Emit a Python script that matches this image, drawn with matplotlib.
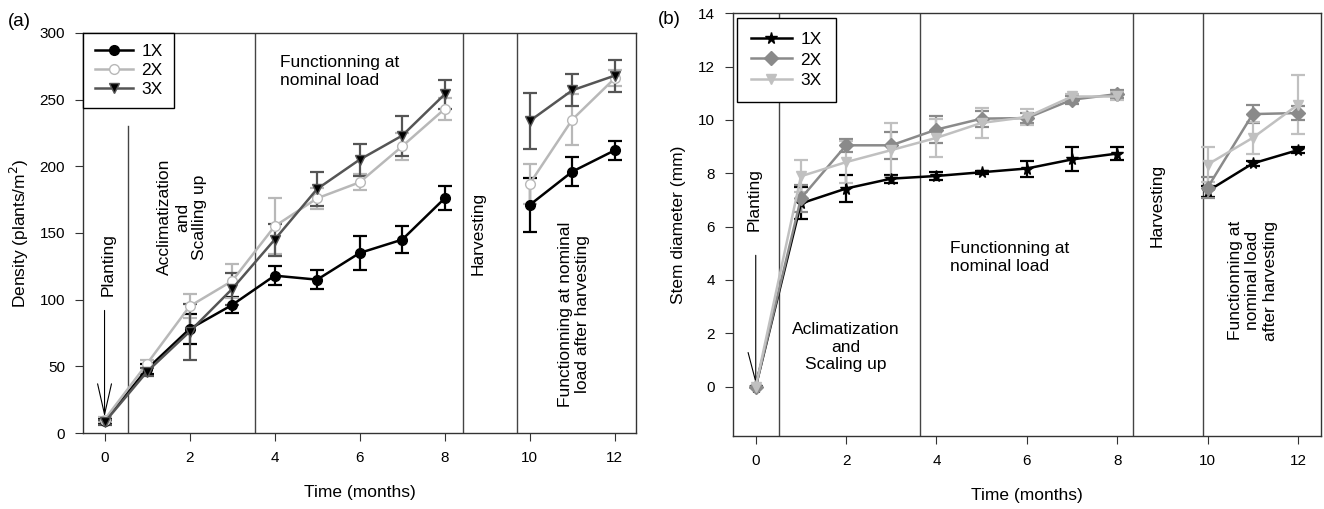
import numpy as np
import matplotlib
matplotlib.use('Agg')
import matplotlib.pyplot as plt

plt.rcParams['font.family'] = ['Liberation Sans', 'DejaVu Sans']

# months sampled (no data at month 9, harvesting)
months = np.array([0, 1, 2, 3, 4, 5, 6, 7, 8, 10, 11, 12])

# (a) density, plants/m2
dens_1x = [9, 48, 78, 96, 118, 115, 135, 145, 176, 171, 196, 212]
dens_1x_err = [2, 4, 11, 6, 7, 7, 13, 10, 9, 20, 11, 7]
dens_2x = [10, 52, 95, 114, 155, 176, 188, 215, 243, 187, 235, 266]
dens_2x_err = [2, 3, 9, 13, 21, 8, 6, 10, 8, 15, 19, 6]
dens_3x = [8, 46, 76, 108, 145, 183, 205, 223, 254, 234, 257, 268]
dens_3x_err = [2, 3, 21, 12, 12, 13, 12, 15, 11, 21, 12, 12]

# (b) stem diameter, mm
stem_1x = [0, 6.87, 7.43, 7.80, 7.90, 8.04, 8.18, 8.52, 8.74, 7.33, 8.37, 8.87]
stem_1x_err = [0, 0.6, 0.5, 0.15, 0.15, 0.05, 0.3, 0.45, 0.25, 0.2, 0.08, 0.12]
stem_2x = [0, 7.06, 9.05, 9.05, 9.64, 10.05, 10.07, 10.76, 10.97, 7.46, 10.22, 10.26]
stem_2x_err = [0, 0.5, 0.25, 0.5, 0.5, 0.3, 0.2, 0.15, 0.15, 0.4, 0.35, 0.25]
stem_3x = [0, 7.89, 8.42, 8.87, 9.33, 9.89, 10.11, 10.88, 10.88, 8.33, 9.33, 10.57]
stem_3x_err = [0, 0.6, 0.8, 1.0, 0.7, 0.55, 0.3, 0.1, 0.15, 0.65, 0.6, 1.1]

labels = ['1X', '2X', '3X']
FS = 12.5
LS = 1.2


def draw_series(ax, y, err, color, marker, ms, mfc, label):
    y = np.array(y, dtype=float)
    err = np.array(err, dtype=float)
    first = True
    # line is broken over the harvesting month
    for seg in (months <= 8, months >= 10):
        ax.errorbar(months[seg], y[seg], yerr=err[seg], color=color, marker=marker,
                    markersize=ms, markerfacecolor=mfc, markeredgecolor=color,
                    linewidth=1.8, elinewidth=1.6, capsize=5, capthick=1.6,
                    label=label if first else None, zorder=3)
        first = False


def style_legend(ax, **kw):
    handles, labs = ax.get_legend_handles_labels()
    # drop the error bar glyph from the legend, keep line + marker
    handles = [h[0] for h in handles]
    leg = ax.legend(handles, labs, loc='upper left', fontsize=FS, frameon=True,
                    fancybox=False, framealpha=1, **kw)
    leg.get_frame().set_edgecolor('black')
    leg.get_frame().set_linewidth(1)
    return leg


fig = plt.figure(figsize=(13.24, 5.09), dpi=100)
ax1 = fig.add_axes([0.0629, 0.1493, 0.4175, 0.786])
ax2 = fig.add_axes([0.5534, 0.1434, 0.4443, 0.8305])

# ---- panel (a)
draw_series(ax1, dens_1x, dens_1x_err, 'black', 'o', 7, 'black', labels[0])
draw_series(ax1, dens_2x, dens_2x_err, '#b8b8b8', 'o', 7, 'white', labels[1])
draw_series(ax1, dens_3x, dens_3x_err, '#555555', 'v', 7.5, 'black', labels[2])
ax1.set_xlim(-0.5, 12.5)
ax1.set_ylim(0, 300)
ax1.set_xticks([0, 2, 4, 6, 8, 10, 12])
ax1.set_yticks([0, 50, 100, 150, 200, 250, 300])
ax1.set_xlabel('Time (months)', fontsize=FS, labelpad=14)
ax1.set_ylabel('Density (plants/m$^2$)', fontsize=FS)
ax1.yaxis.set_label_coords(-0.094, 0.5)

ax1.axvline(0.557, ymin=0, ymax=230 / 300, color='#444444', lw=1)
for xv in (3.54, 8.44, 9.71):
    ax1.axvline(xv, color='#444444', lw=1)

ax1.annotate('', xy=(0, 10), xytext=(0, 94),
             arrowprops=dict(arrowstyle='->,head_length=2.2,head_width=0.5', color='black', lw=0.8))
ax1.text(0.08, 126, 'Planting', rotation=90, ha='center', va='center', fontsize=FS)
ax1.text(1.83, 162, 'Acclimatization\nand\nScalling up', rotation=90, ha='center', va='center',
         fontsize=FS, linespacing=LS)
ax1.text(4.12, 271, 'Functionning at\nnominal load', ha='left', va='center', fontsize=FS, linespacing=LS)
ax1.text(8.79, 150, 'Harvesting', rotation=90, ha='center', va='center', fontsize=FS)
ax1.text(11.04, 89, 'Functionning at nominal\nload after harvesting', rotation=90, ha='center',
         va='center', fontsize=FS, linespacing=LS)

style_legend(ax1, borderaxespad=0, handlelength=2.2, labelspacing=0.2, borderpad=0.65,
             handletextpad=0.5)

# ---- panel (b)
draw_series(ax2, stem_1x, stem_1x_err, 'black', '*', 8.5, 'black', labels[0])
draw_series(ax2, stem_2x, stem_2x_err, '#8a8a8a', 'D', 7, '#8a8a8a', labels[1])
draw_series(ax2, stem_3x, stem_3x_err, '#c0c0c0', 'v', 7.5, '#c0c0c0', labels[2])
ax2.set_xlim(-0.51, 12.51)
ax2.set_ylim(-1.85, 14)
ax2.set_xticks([0, 2, 4, 6, 8, 10, 12])
ax2.set_yticks([0, 2, 4, 6, 8, 10, 12, 14])
ax2.set_xlabel('Time (months)', fontsize=FS, labelpad=14)
ax2.set_ylabel('Stem diameter (mm)', fontsize=FS)
ax2.yaxis.set_label_coords(-0.080, 0.5)

for xv in (0.52, 3.64, 8.34, 9.89):
    ax2.axvline(xv, color='#444444', lw=1)

ax2.annotate('', xy=(0, 0), xytext=(0, 5.03),
             arrowprops=dict(arrowstyle='->,head_length=2.1,head_width=0.55', color='black', lw=0.8))
ax2.text(-0.04, 7.0, 'Planting', rotation=90, ha='center', va='center', fontsize=FS)
ax2.text(2.0, 1.48, 'Aclimatization\nand\nScaling up', ha='center', va='center', fontsize=FS,
         linespacing=LS)
ax2.text(4.3, 4.84, 'Functionning at\nnominal load', ha='left', va='center', fontsize=FS, linespacing=LS)
ax2.text(8.89, 6.8, 'Harvesting', rotation=90, ha='center', va='center', fontsize=FS)
ax2.text(11.0, 3.97, 'Functionning at\nnominal load\nafter harvesting', rotation=90, ha='center',
         va='center', fontsize=FS, linespacing=LS)

style_legend(ax2, borderaxespad=0.25, handlelength=2.35, labelspacing=0.33, borderpad=0.8,
             handletextpad=0.5)

for ax in (ax1, ax2):
    ax.tick_params(direction='out', length=6, labelsize=11, pad=7, top=False, right=False,
                   color='#333333')
    for sp in ax.spines.values():
        sp.set_color('#333333')
        sp.set_linewidth(1)

fig.text(0.006, 0.957, '(a)', fontsize=13.5, va='center')
fig.text(0.497, 0.961, '(b)', fontsize=13.5, va='center')

fig.savefig('out.png', dpi=100)
